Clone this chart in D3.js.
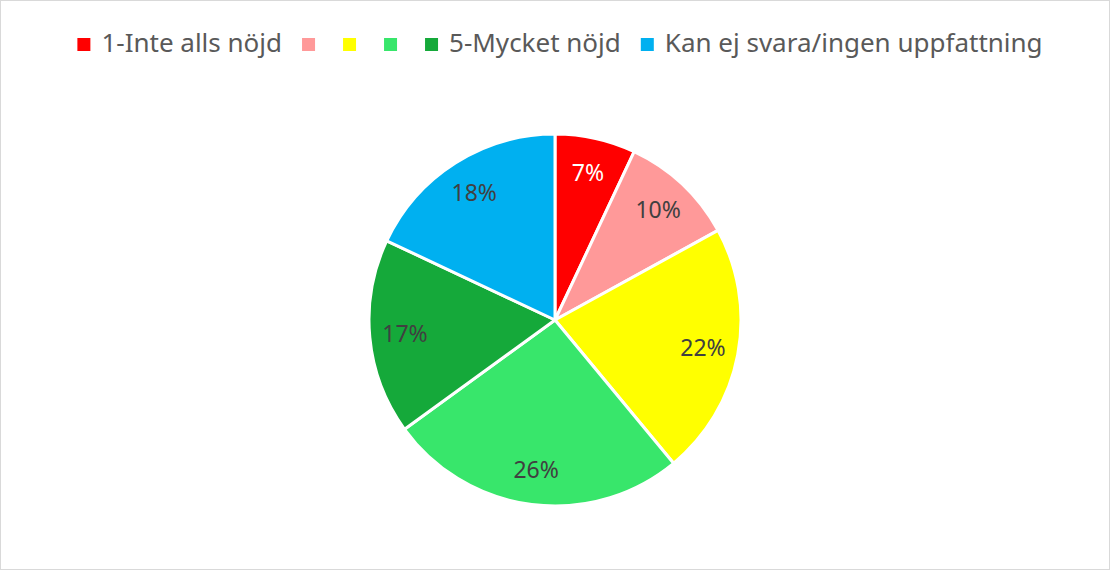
<!DOCTYPE html>
<html>
<head>
<meta charset="utf-8">
<script src="https://cdn.jsdelivr.net/npm/d3@7"></script>
<style>
  html, body { margin: 0; padding: 0; background: #fff; }
  svg { display: block; font-family: "Segoe UI", "Noto Sans", "Open Sans", sans-serif; }
</style>
</head>
<body>
<svg id="chart" width="1110" height="570"></svg>
<script>
  // data
  const categories = ['1-Inte alls nöjd', '', '', '', '5-Mycket nöjd', 'Kan ej svara/ingen uppfattning']
  const values = [7, 10, 22, 26, 17, 18]
  const colors = ['#FF0000', '#FF9999', '#FFFF00', '#38E66B', '#15A93A', '#00B0F0']
  const labelColors = ['#ffffff', '#404040', '#404040', '#404040', '#404040', '#404040']

  const W = 1110
  const H = 570
  const svg = d3.select('#chart')

  // frame
  svg.append('rect')
    .attr('x', 0.5).attr('y', 0.5)
    .attr('width', W - 1).attr('height', H - 1)
    .attr('fill', '#fff')
    .attr('stroke', '#d9d9d9')

  // pie
  const cx = 555, cy = 320, R = 186
  const pie = d3.pie().sort(null).value(d => d)
  const arc = d3.arc().innerRadius(0).outerRadius(R)
  const labelArc = d3.arc().innerRadius(R * 0.81).outerRadius(R * 0.81)
  const arcs = pie(values)

  const g = svg.append('g').attr('transform', `translate(${cx},${cy})`)

  g.selectAll('path')
    .data(arcs)
    .enter()
    .append('path')
    .attr('d', arc)
    .attr('fill', (d, i) => colors[i])
    .attr('stroke', '#fff')
    .attr('stroke-width', 3)
    .attr('stroke-linejoin', 'round')

  g.selectAll('text')
    .data(arcs)
    .enter()
    .append('text')
    .attr('transform', d => `translate(${labelArc.centroid(d)})`)
    .attr('text-anchor', 'middle')
    .attr('dy', '0.35em')
    .attr('font-size', 23)
    .attr('fill', (d, i) => labelColors[i])
    .text(d => d.data + '%')

  // legend
  const legend = svg.append('g')
  const sq = 13, gapText = 11
  const items = legend.selectAll('g.item')
    .data(categories)
    .enter()
    .append('g')
    .attr('class', 'item')

  items.append('rect')
    .attr('width', sq).attr('height', sq)
    .attr('y', -sq - 1)
    .attr('fill', (d, i) => colors[i])

  items.append('text')
    .attr('x', sq + gapText)
    .attr('font-size', 26)
    .attr('fill', '#595959')
    .text(d => d)

  // place items side by side, centred
  let x = 0
  const offsets = []
  items.each(function (d) {
    offsets.push(x)
    if (d) x += sq + gapText + this.querySelector('text').getComputedTextLength() + 20
    else x += sq + 28
  })
  const total = x - 20
  const startX = 560 - total / 2
  items.attr('transform', (d, i) => `translate(${startX + offsets[i]},52)`)
</script>
</body>
</html>
